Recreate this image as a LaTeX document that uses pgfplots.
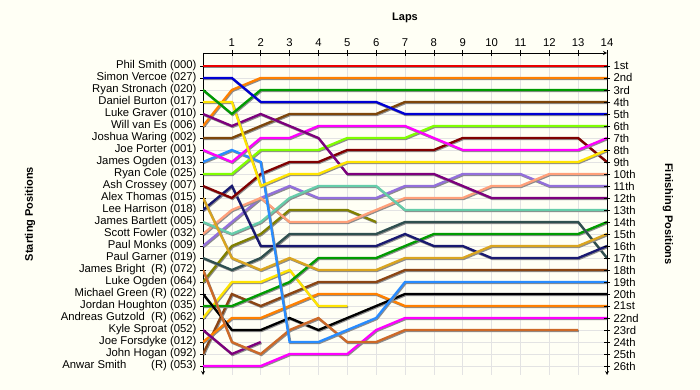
\documentclass[border=0pt]{standalone}
\usepackage{fontspec}
\setmainfont{Liberation Sans}
\usepackage{pgfplots}
\pgfplotsset{compat=1.18}
\definecolor{bg}{RGB}{255,255,245}
\definecolor{cRed}{RGB}{235,0,0}
\definecolor{cBlue}{RGB}{0,0,210}
\definecolor{cGreen}{RGB}{0,155,0}
\definecolor{cYellow}{RGB}{255,228,0}
\definecolor{cPurple}{RGB}{125,0,125}
\definecolor{cOrange}{RGB}{255,128,0}
\definecolor{cBrown}{RGB}{125,70,10}
\definecolor{cMagenta}{RGB}{255,0,255}
\definecolor{cDodger}{RGB}{40,140,255}
\definecolor{cLime}{RGB}{128,255,0}
\definecolor{cMaroon}{RGB}{128,0,0}
\definecolor{cGold}{RGB}{218,165,32}
\definecolor{cNavy}{RGB}{25,25,112}
\definecolor{cAqua}{RGB}{102,205,170}
\definecolor{cSalmon}{RGB}{255,160,122}
\definecolor{cMPurple}{RGB}{147,112,219}
\definecolor{cSlate}{RGB}{47,79,79}
\definecolor{cChoc}{RGB}{205,105,40}
\definecolor{cOlive}{RGB}{128,128,0}
\definecolor{cSaddle}{RGB}{139,69,19}
\begin{document}
\begin{tikzpicture}
\useasboundingbox (0,0) rectangle (700pt,390pt);
\fill[bg] (0,0) rectangle (700pt,390pt);
\pgfplotsset{
  common/.style={
    at={(203pt,15pt)}, anchor=south west,
    width=404pt, height=322pt, scale only axis,
    xmin=0, xmax=14, ymin=-0.08, ymax=26.75, y dir=reverse,
    tick align=outside, major tick length=6pt,
    tick style={black, line width=0.6pt},
    axis line style={-, black, line width=0.8pt},
    ticklabel style={font=\fontsize{11.3}{12}\selectfont},
    /pgf/number format/assume math mode=true,
  }
}
\begin{axis}[common,
  axis x line=top, axis y line=left,
  xtick={1,...,14}, ytick={1,...,26},
  yticklabels={{Phil Smith (000)},{Simon Vercoe (027)},{Ryan Stronach (020)},{Daniel Burton (017)},{Luke Graver (010)},{Will van Es (006)},{Joshua Waring (002)},{Joe Porter (001)},{James Ogden (013)},{Ryan Cole (025)},{Ash Crossey (007)},{Alex Thomas (015)},{Lee Harrison (018)},{James Bartlett (005)},{Scott Fowler (032)},{Paul Monks (009)},{Paul Garner (019)},{James Bright\ \ (R) (072)},{Luke Ogden (064)},{Michael Green (R) (022)},{Jordan Houghton (035)},{Andreas Gutzold\ \ (R) (062)},{Kyle Sproat (052)},{Joe Forsdyke (012)},{John Hogan (092)},{Anwar Smith\hspace{2.2em}(R) (053)}},
  grid=major, major grid style={draw=black!11, line width=0.6pt},
  clip mode=individual,
  every axis plot/.append style={line width=2.3pt, preaction={draw=black!45, line width=2.3pt, transform canvas={shift={(0.8pt,-1pt)}}}},
]
% drawn in reverse order so the leading drivers lie on top
\addplot[cMagenta] coordinates {(0,26)(1,26)(2,26)(3,25)(4,25)(5,25)(6,23)(7,22)(8,22)(9,22)(10,22)(11,22)(12,22)(13,22)(14,22)};
\addplot[cSaddle] coordinates {(0,25)(1,20)(2,21)(3,20)(4,19)(5,19)(6,19)(7,18)(8,18)(9,18)(10,18)(11,18)(12,18)(13,18)(14,18)};
\addplot[cOrange] coordinates {(0,24)(1,22)(2,22)(3,21)(4,20)(5,20)(6,20)(7,21)(8,21)(9,21)(10,21)(11,21)(12,21)(13,21)(14,21)};
\addplot[cPurple] coordinates {(0,23)(1,25)(2,24)};
\addplot[cYellow] coordinates {(0,22)(1,19)(2,19)(3,18)(4,21)(5,21)};
\addplot[cGreen] coordinates {(0,21)(1,21)(2,20)(3,19)(4,17)(5,17)(6,17)(7,16)(8,15)(9,15)(10,15)(11,15)(12,15)(13,15)(14,14)};
\addplot[black] coordinates {(0,20)(1,23)(2,23)(3,22)(4,23)(5,22)(6,21)(7,20)(8,20)(9,20)(10,20)(11,20)(12,20)(13,20)(14,20)};
\addplot[cOlive] coordinates {(0,19)(1,16)(2,15)(3,13)(4,13)(5,13)(6,14)};
\addplot[cChoc] coordinates {(0,18)(1,24)(2,25)(3,23)(4,22)(5,24)(6,24)(7,23)(8,23)(9,23)(10,23)(11,23)(12,23)(13,23)};
\addplot[cSlate] coordinates {(0,17)(1,18)(2,17)(3,15)(4,15)(5,15)(6,15)(7,14)(8,14)(9,14)(10,14)(11,14)(12,14)(13,14)(14,17)};
\addplot[cMPurple] coordinates {(0,16)(1,14)(2,12)(3,11)(4,12)(5,12)(6,12)(7,11)(8,11)(9,10)(10,10)(11,10)(12,11)(13,11)(14,11)};
\addplot[cSalmon] coordinates {(0,15)(1,13)(2,12)(3,14)(4,14)(5,14)(6,13)(7,12)(8,12)(9,12)(10,11)(11,11)(12,10)(13,10)(14,10)};
\addplot[cAqua] coordinates {(0,14)(1,15)(2,14)(3,12)(4,11)(5,11)(6,11)(7,13)(8,13)(9,13)(10,13)(11,13)(12,13)(13,13)(14,13)};
\addplot[cNavy] coordinates {(0,13)(1,11)(2,16)(3,16)(4,16)(5,16)(6,16)(7,15)(8,16)(9,16)(10,17)(11,17)(12,17)(13,17)(14,16)};
\addplot[cGold] coordinates {(0,12)(1,17)(2,18)(3,17)(4,18)(5,18)(6,18)(7,17)(8,17)(9,17)(10,16)(11,16)(12,16)(13,16)(14,15)};
\addplot[cMaroon] coordinates {(0,11)(1,12)(2,10)(3,9)(4,9)(5,8)(6,8)(7,8)(8,8)(9,7)(10,7)(11,7)(12,7)(13,7)(14,9)};
\addplot[cLime] coordinates {(0,10)(1,10)(2,8)(3,8)(4,8)(5,7)(6,7)(7,7)(8,6)(9,6)(10,6)(11,6)(12,6)(13,6)(14,6)};
\addplot[cDodger] coordinates {(0,9)(1,8)(2,9)(3,24)(4,24)(5,23)(6,22)(7,19)(8,19)(9,19)(10,19)(11,19)(12,19)(13,19)(14,19)};
\addplot[cMagenta] coordinates {(0,8)(1,9)(2,7)(3,7)(4,6)(5,6)(6,6)(7,6)(8,7)(9,8)(10,8)(11,8)(12,8)(13,8)(14,7)};
\addplot[cBrown] coordinates {(0,7)(1,7)(2,6)(3,5)(4,5)(5,5)(6,5)(7,4)(8,4)(9,4)(10,4)(11,4)(12,4)(13,4)(14,4)};
\addplot[cOrange] coordinates {(0,6)(1,3)(2,2)(3,2)(4,2)(5,2)(6,2)(7,2)(8,2)(9,2)(10,2)(11,2)(12,2)(13,2)(14,2)};
\addplot[cPurple] coordinates {(0,5)(1,6)(2,5)(3,6)(4,7)(5,10)(6,10)(7,10)(8,10)(9,11)(10,12)(11,12)(12,12)(13,12)(14,12)};
\addplot[cYellow] coordinates {(0,4)(1,4)(2,11)(3,10)(4,10)(5,9)(6,9)(7,9)(8,9)(9,9)(10,9)(11,9)(12,9)(13,9)(14,8)};
\addplot[cGreen] coordinates {(0,3)(1,5)(2,3)(3,3)(4,3)(5,3)(6,3)(7,3)(8,3)(9,3)(10,3)(11,3)(12,3)(13,3)(14,3)};
\addplot[cBlue] coordinates {(0,2)(1,2)(2,4)(3,4)(4,4)(5,4)(6,4)(7,5)(8,5)(9,5)(10,5)(11,5)(12,5)(13,5)(14,5)};
\addplot[cRed] coordinates {(0,1)(1,1)(2,1)(3,1)(4,1)(5,1)(6,1)(7,1)(8,1)(9,1)(10,1)(11,1)(12,1)(13,1)(14,1)};
\node[font=\fontsize{11}{12}\selectfont\bfseries] at ([yshift=35pt]rel axis cs:0.5,1) {Laps};
\node[font=\fontsize{11}{12}\selectfont\bfseries, rotate=90] at ([xshift=-173pt]rel axis cs:0,0.5) {Starting Positions};
\node[font=\fontsize{11}{12}\selectfont\bfseries, rotate=-90] at ([xshift=61pt]rel axis cs:1,0.5) {Finishing Positions};
\end{axis}
\begin{axis}[common,
  axis x line=none, axis y line=right,
  ytick={1,...,26},
  yticklabels={1st,2nd,3rd,4th,5th,6th,7th,8th,9th,10th,11th,12th,13th,14th,15th,16th,17th,18th,19th,20th,21st,22nd,23rd,24th,25th,26th},
]
\end{axis}
\end{tikzpicture}
\end{document}
